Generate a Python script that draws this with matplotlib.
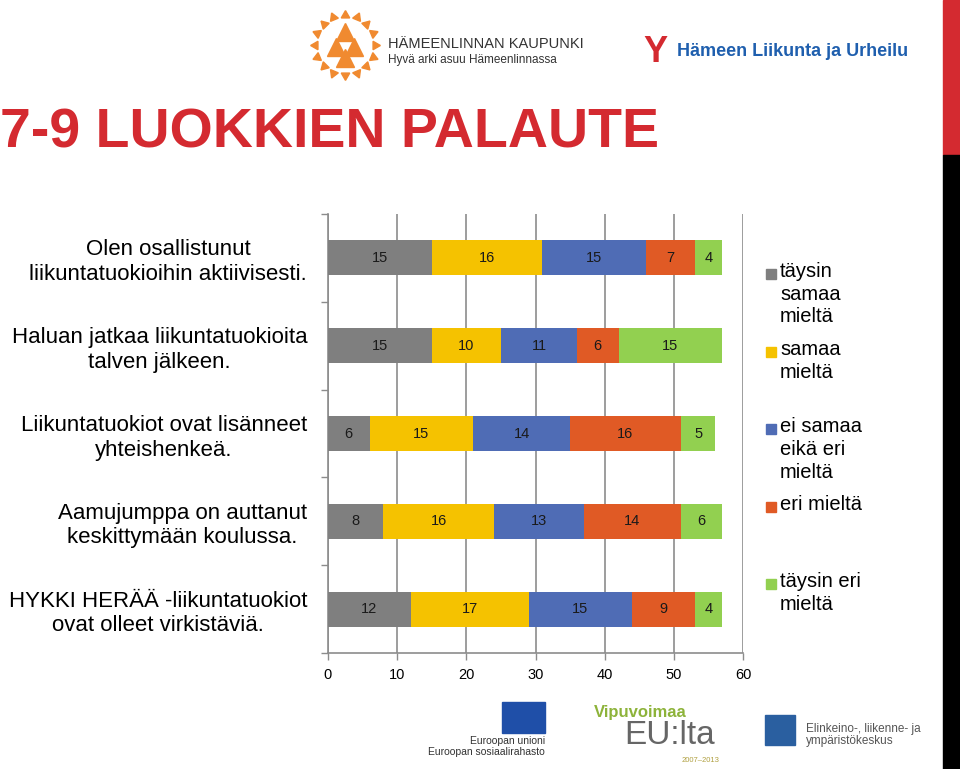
import numpy as np
import matplotlib
matplotlib.use("Agg")
import matplotlib.pyplot as plt
from matplotlib.patches import Rectangle

plt.rcParams['font.family'] = ['Liberation Sans', 'DejaVu Sans']

# data
questions = ['Olen osallistunut\nliikuntatuokioihin aktiivisesti.',
             'Haluan jatkaa liikuntatuokioita\ntalven jälkeen.',
             'Liikuntatuokiot ovat lisänneet\nyhteishenkeä.',
             'Aamujumppa on auttanut\nkeskittymään koulussa.',
             'HYKKI HERÄÄ -liikuntatuokiot\novat olleet virkistäviä.']
taysin_samaa = [15, 15, 6, 8, 12]
samaa = [16, 10, 15, 16, 17]
ei_samaa_eika_eri = [15, 11, 14, 13, 15]
eri = [7, 6, 16, 14, 9]
taysin_eri = [4, 15, 5, 6, 4]
series_names = ['täysin\nsamaa\nmieltä', 'samaa\nmieltä', 'ei samaa\neikä eri\nmieltä',
                'eri mieltä', 'täysin eri\nmieltä']
colors = ['#7F7F7F', '#F5C200', '#4F6CB5', '#E05A25', '#92D050']
xticks = [0, 10, 20, 30, 40, 50, 60]

W, H = 960, 769
fig = plt.figure(figsize=(9.6, 7.69), dpi=100)

def fx(px):
    return px / W

def fy(py):
    return 1 - py / H

ax = fig.add_axes([fx(328), fy(653), fx(743) - fx(328), fy(214) - fy(653)])

series = [taysin_samaa, samaa, ei_samaa_eika_eri, eri, taysin_eri]
y = np.arange(len(questions))
left = np.zeros(len(questions))
for vals, c in zip(series, colors):
    bars = ax.barh(y, vals, left=left, height=0.4, color=c, zorder=3)
    for b, v in zip(bars, vals):
        ax.text(b.get_x() + b.get_width() / 2, b.get_y() + b.get_height() / 2, str(v),
                ha='center', va='center', fontsize=10.5, color='#1a1a1a', zorder=4)
    left += np.array(vals)

ax.set_xlim(0, 60)
ax.set_ylim(len(questions) - 0.5, -0.5)
ax.set_xticks(xticks)
ax.set_xticklabels([str(t) for t in xticks], fontsize=10.5)
ax.set_yticks(y)
ax.set_yticklabels(questions, fontsize=16, linespacing=1.22)
ax.set_yticks(np.arange(-0.5, len(questions)), minor=True)
ax.tick_params(axis='y', which='major', length=0, pad=15)
ax.tick_params(axis='y', which='minor', length=5, color='#8c8c8c', width=1)
ax.tick_params(axis='x', length=5, color='#8c8c8c', width=1, pad=6)
for lbl in ax.get_yticklabels():
    lbl.set_multialignment('center')
ax.xaxis.grid(True, color='#8c8c8c', linewidth=1.2, zorder=0)
for s in ['top', 'right']:
    ax.spines[s].set_visible(False)
for s in ['left', 'bottom']:
    ax.spines[s].set_color('#8c8c8c')
    ax.spines[s].set_linewidth(1.2)

# legend
legend_tops = [262, 340, 417, 495, 572]
for name, c, top in zip(series_names, colors, legend_tops):
    fig.patches.append(Rectangle((fx(766), fy(top + 17)), fx(10), 10 / H,
                                 transform=fig.transFigure, color=c))
    fig.text(fx(780), fy(top), name, fontsize=14.5, va='top', ha='left',
             linespacing=1.25)

# title
fig.text(fx(0), fy(134), '7-9 LUOKKIEN PALAUTE', fontsize=40, fontweight='bold',
         color='#D42A30', ha='left', va='center')

# right stripe
fig.patches.append(Rectangle((fx(943), fy(155)), fx(17), 155 / H,
                             transform=fig.transFigure, color='#D42A30'))
fig.patches.append(Rectangle((fx(943), 0), fx(17), fy(155),
                             transform=fig.transFigure, color='black'))

# header logos
sun = fig.add_axes([fx(308), fy(82), fx(74), 74 / H])
sun.set_xlim(-1, 1)
sun.set_ylim(-1, 1)
sun.axis('off')
ang = np.linspace(0, 2 * np.pi, 16, endpoint=False)
for a in ang:
    sun.plot(0.82 * np.cos(a), 0.82 * np.sin(a), marker=(3, 0, np.degrees(a) - 90),
             markersize=7, color='#F08A30', linestyle='none')
sun.plot([0, -0.25, 0.25, 0], [0.35, -0.05, -0.05, -0.35], marker='^',
         markersize=13, color='#F08A30', linestyle='none')
fig.text(fx(388), fy(44), 'HÄMEENLINNAN KAUPUNKI', fontsize=10.5, color='#333333',
         va='center', ha='left')
fig.text(fx(388), fy(60), 'Hyvä arki asuu Hämeenlinnassa', fontsize=8.5, color='#333333',
         va='center', ha='left')
fig.text(fx(643), fy(52), 'Y', fontsize=26, fontweight='bold', color='#D42A30',
         va='center', ha='left')
fig.text(fx(677), fy(52), 'Hämeen Liikunta ja Urheilu', fontsize=13, fontweight='bold',
         color='#1F5FAE', va='center', ha='left')

# footer logos
fig.patches.append(Rectangle((fx(502), fy(733)), fx(43), 31 / H,
                             transform=fig.transFigure, color='#1F4FA8'))
fig.text(fx(545), fy(741), 'Euroopan unioni', fontsize=7.5, color='#333333',
         ha='right', va='center')
fig.text(fx(545), fy(752), 'Euroopan sosiaalirahasto', fontsize=7.5, color='#333333',
         ha='right', va='center')
fig.text(fx(594), fy(712), 'Vipuvoimaa', fontsize=12, fontweight='bold', color='#8DB33A',
         ha='left', va='center')
fig.text(fx(624), fy(735), 'EU:lta', fontsize=24, color='#666666', ha='left', va='center')
fig.text(fx(682), fy(760), '2007–2013', fontsize=5.5, color='#B0A040', ha='left', va='center')
fig.text(fx(806), fy(729), 'Elinkeino-, liikenne- ja', fontsize=8.5, color='#555555',
         ha='left', va='center')
fig.text(fx(806), fy(741), 'ympäristökeskus', fontsize=8.5, color='#555555',
         ha='left', va='center')
fig.patches.append(Rectangle((fx(765), fy(745)), fx(30), 30 / H,
                             transform=fig.transFigure, color='#2A5FA0'))

fig.savefig('out.png', dpi=100, facecolor='white')
